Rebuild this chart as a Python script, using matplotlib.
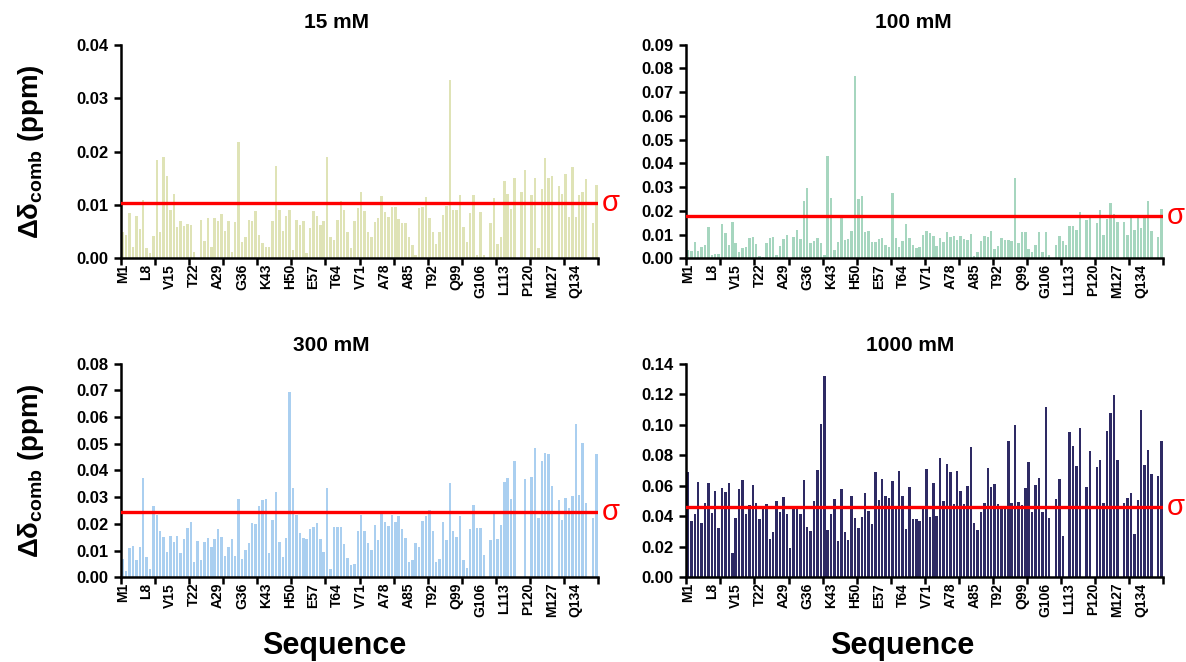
import matplotlib
matplotlib.use('Agg')
import matplotlib.pyplot as plt
from matplotlib.ticker import MultipleLocator, FormatStrFormatter
import numpy as np

plt.rcParams['font.family'] = ['Liberation Sans', 'DejaVu Sans']
plt.rcParams['mathtext.fontset'] = 'custom'
plt.rcParams['mathtext.rm'] = 'Liberation Sans:bold'
plt.rcParams['mathtext.it'] = 'Liberation Sans:bold'
plt.rcParams['mathtext.bf'] = 'Liberation Sans:bold'

# residue numbers and the labels shown every 7 residues
residues = np.arange(1, 141)
label_pos = [1, 8, 15, 22, 29, 36, 43, 50, 57, 64, 71, 78, 85, 92, 99, 106, 113, 120, 127, 134]
label_txt = ['M1', 'L8', 'V15', 'T22', 'A29', 'G36', 'K43', 'H50', 'E57', 'T64',
             'V71', 'A78', 'A85', 'T92', 'Q99', 'G106', 'L113', 'P120', 'M127', 'Q134']

# combined chemical shift perturbations (ppm), residues 1-140
shift_15 = [
    0.005, 0.0043, 0.0085, 0.0022, 0.008, 0.0055, 0.011, 0.002, 0.001, 0.0042,
    0.0185, 0.005, 0.019, 0.0154, 0.009, 0.012, 0.0058, 0.007, 0.006, 0.0065,
    0.0063, 0.0012, 0.0, 0.0072, 0.0032, 0.0075, 0.0022, 0.0075, 0.007, 0.0083,
    0.0051, 0.007, 0.0012, 0.0068, 0.0217, 0.003, 0.004, 0.0072, 0.007, 0.0088,
    0.0044, 0.0028, 0.0022, 0.0022, 0.007, 0.0172, 0.009, 0.0052, 0.008, 0.009,
    0.0016, 0.0072, 0.0063, 0.007, 0.001, 0.0056, 0.0088, 0.008, 0.0062, 0.007,
    0.019, 0.004, 0.0035, 0.0072, 0.0108, 0.0091, 0.0049, 0.0019, 0.0069, 0.0094,
    0.0125, 0.0088, 0.005, 0.0039, 0.0068, 0.0075, 0.0116, 0.0086, 0.0077, 0.0097,
    0.0097, 0.0074, 0.0066, 0.0067, 0.0039, 0.0024, 0.0006, 0.0095, 0.0097, 0.0114,
    0.0075, 0.0049, 0.0027, 0.0049, 0.0082, 0.0098, 0.0333, 0.009, 0.009, 0.0118,
    0.0058, 0.0031, 0.0085, 0.0119, 0.0007, 0.0086, 0.0007, 0.0, 0.0066, 0.0113,
    0.0027, 0.004, 0.0145, 0.0121, 0.0092, 0.0151, 0.0, 0.0124, 0.0165, 0.0,
    0.0118, 0.0151, 0.0019, 0.0129, 0.0187, 0.0151, 0.0155, 0.0, 0.0136, 0.0121,
    0.0158, 0.0078, 0.0171, 0.0077, 0.0119, 0.0124, 0.0149, 0.0, 0.0067, 0.0137]

shift_100 = [
    0.0035, 0.003, 0.007, 0.003, 0.0048, 0.0055, 0.0133, 0.0013, 0.0018, 0.0018,
    0.0145, 0.0107, 0.0058, 0.0152, 0.0065, 0.0025, 0.0045, 0.0048, 0.0085, 0.0088,
    0.0062, 0.001, 0.0005, 0.0066, 0.0087, 0.0088, 0.0012, 0.0051, 0.0082, 0.0097,
    0.0, 0.0088, 0.012, 0.0082, 0.0242, 0.0297, 0.0066, 0.0073, 0.0085, 0.0066,
    0.0016, 0.0432, 0.0254, 0.0035, 0.0068, 0.0177, 0.0077, 0.0082, 0.0117, 0.0768,
    0.025, 0.0262, 0.011, 0.0117, 0.007, 0.0067, 0.0083, 0.0085, 0.0055, 0.0048,
    0.0274, 0.0085, 0.0048, 0.0073, 0.0145, 0.0085, 0.0058, 0.0042, 0.0048, 0.0097,
    0.0117, 0.0105, 0.0093, 0.0052, 0.0085, 0.0068, 0.0112, 0.0088, 0.0092, 0.0078,
    0.0092, 0.0082, 0.0076, 0.0103, 0.0008, 0.0025, 0.0073, 0.0092, 0.0088, 0.0115,
    0.0038, 0.0052, 0.0085, 0.0078, 0.0078, 0.0073, 0.0337, 0.0066, 0.011, 0.011,
    0.0038, 0.0025, 0.0056, 0.011, 0.0025, 0.011, 0.0012, 0.0, 0.0058, 0.0092,
    0.0074, 0.0058, 0.0134, 0.0137, 0.0118, 0.0196, 0.0, 0.0162, 0.0169, 0.0,
    0.0147, 0.0203, 0.0098, 0.0167, 0.0233, 0.0188, 0.0152, 0.0, 0.0153, 0.0098,
    0.0172, 0.0118, 0.0172, 0.0128, 0.0168, 0.0241, 0.0115, 0.0, 0.0088, 0.0206]

shift_300 = [
    0.007, 0.0025, 0.011, 0.0118, 0.0063, 0.0115, 0.0373, 0.0077, 0.003, 0.0268,
    0.0233, 0.0173, 0.0152, 0.0095, 0.0155, 0.0133, 0.0155, 0.009, 0.0142, 0.0183,
    0.0207, 0.0057, 0.0135, 0.0063, 0.0132, 0.0148, 0.0112, 0.0145, 0.018, 0.0152,
    0.008, 0.0114, 0.0142, 0.008, 0.0293, 0.0067, 0.0103, 0.0129, 0.0203, 0.02,
    0.0267, 0.029, 0.0293, 0.009, 0.0215, 0.0318, 0.0133, 0.0077, 0.0148, 0.0695,
    0.0335, 0.0233, 0.0167, 0.0147, 0.0142, 0.018, 0.0187, 0.0203, 0.0145, 0.0093,
    0.0335, 0.003, 0.0187, 0.0187, 0.0187, 0.0124, 0.0074, 0.0046, 0.005, 0.0172,
    0.0235, 0.0172, 0.0127, 0.0101, 0.0195, 0.014, 0.0236, 0.0206, 0.0192, 0.0235,
    0.0208, 0.023, 0.018, 0.0147, 0.0057, 0.0065, 0.0127, 0.0115, 0.0211, 0.0231,
    0.0252, 0.0174, 0.0057, 0.0067, 0.0206, 0.014, 0.0353, 0.0174, 0.0151, 0.0228,
    0.0065, 0.0035, 0.018, 0.0271, 0.0186, 0.0184, 0.0082, 0.0, 0.014, 0.0247,
    0.0145, 0.0196, 0.0357, 0.0372, 0.0293, 0.0436, 0.0, 0.0, 0.037, 0.0,
    0.0376, 0.0484, 0.0223, 0.0436, 0.0466, 0.0462, 0.0343, 0.0, 0.0288, 0.0216,
    0.0297, 0.0258, 0.0305, 0.0576, 0.031, 0.0503, 0.0278, 0.0, 0.0222, 0.0462]

shift_1000 = [
    0.069, 0.037, 0.0415, 0.0625, 0.0357, 0.049, 0.0615, 0.042, 0.0565, 0.032,
    0.0585, 0.0557, 0.062, 0.016, 0.039, 0.0578, 0.0637, 0.0417, 0.0472, 0.0607,
    0.0487, 0.038, 0.046, 0.0483, 0.0253, 0.0297, 0.0497, 0.0425, 0.0528, 0.0415,
    0.0195, 0.0455, 0.045, 0.0418, 0.0637, 0.0327, 0.0302, 0.0497, 0.0705, 0.1005,
    0.1318, 0.031, 0.0413, 0.051, 0.024, 0.0582, 0.0298, 0.0242, 0.0532, 0.0388,
    0.0322, 0.0397, 0.055, 0.0437, 0.035, 0.069, 0.0508, 0.0642, 0.0532, 0.052,
    0.0629, 0.0463, 0.0699, 0.053, 0.0314, 0.0594, 0.0382, 0.0382, 0.0371, 0.0448,
    0.0707, 0.0395, 0.0616, 0.0402, 0.0784, 0.0498, 0.0742, 0.0688, 0.0478, 0.0699,
    0.0568, 0.0478, 0.0598, 0.0852, 0.0358, 0.0308, 0.0428, 0.0489, 0.0714, 0.0594,
    0.0611, 0.0478, 0.047, 0.0467, 0.0891, 0.0485, 0.0996, 0.0491, 0.0474, 0.0583,
    0.0755, 0.0428, 0.0605, 0.0651, 0.0428, 0.1116, 0.0389, 0.0, 0.0515, 0.0646,
    0.0271, 0.0, 0.095, 0.0858, 0.0731, 0.098, 0.0, 0.059, 0.0827, 0.0,
    0.072, 0.077, 0.0485, 0.0956, 0.1076, 0.1192, 0.0766, 0.0, 0.0485, 0.052,
    0.0555, 0.0286, 0.0509, 0.1094, 0.0738, 0.0834, 0.0679, 0.0, 0.0664, 0.0893]

titles = ['15 mM', '100 mM', '300 mM', '1000 mM']
sigmas = [0.0104, 0.018, 0.0243, 0.0458]
ymax = [0.04, 0.09, 0.08, 0.14]
ystep = [0.01, 0.01, 0.01, 0.02]
colors = ['#dfe3b6', '#a6d6bf', '#aacff0', '#2e2a64']
shifts = [shift_15, shift_100, shift_300, shift_1000]

W, H = 1186, 662
fig = plt.figure(figsize=(W / 100, H / 100), dpi=100)

# axes boxes in pixels: left, top
boxes = [(121, 44.7), (686.3, 44.7), (121, 363.7), (686.3, 363.7)]
aw, ah = 477, 213.6
title_x = [336, 913, 331, 910]
title_y = [23, 23, 345, 345]

for k in range(4):
    left, top = boxes[k]
    ax = fig.add_axes([left / W, 1 - (top + ah) / H, aw / W, ah / H])
    ax.bar(residues, shifts[k], width=0.72, color=colors[k], edgecolor='none')
    ax.axhline(sigmas[k], color='#ff0000', lw=2.4, zorder=5)
    ax.text(1.008, sigmas[k], 'σ', color='#ff0000', fontsize=21,
            transform=ax.get_yaxis_transform(), ha='left', va='center')

    ax.set_xlim(0.5, 140.5)
    ax.set_ylim(0, ymax[k])
    ax.yaxis.set_major_locator(MultipleLocator(ystep[k]))
    ax.yaxis.set_major_formatter(FormatStrFormatter('%.2f'))

    # labelled positions without marks, marks every 10 residues at boundaries
    ax.set_xticks(label_pos)
    ax.set_xticklabels(label_txt, rotation=90, fontsize=10, fontweight='bold')
    ax.tick_params(axis='x', which='major', length=0, pad=4)
    ax.set_xticks(np.arange(0.5, 141, 10), minor=True)
    ax.tick_params(axis='x', which='minor', length=5, width=1.8, direction='out')
    ax.tick_params(axis='y', length=5, width=1.8, direction='out', pad=4)
    for lab in ax.get_yticklabels():
        lab.set_fontsize(12)
        lab.set_fontweight('bold')

    for s in ['top', 'right']:
        ax.spines[s].set_visible(False)
    for s in ['left', 'bottom']:
        ax.spines[s].set_linewidth(1.8)

    if k % 2 == 0:
        ax.set_ylabel(r'$\Delta\delta_{comb}$ (ppm)', fontsize=20, fontweight='bold')
        ax.yaxis.set_label_coords(-0.158, 0.5)

    fig.text(title_x[k] / W, 1 - title_y[k] / H, titles[k], fontsize=15,
             fontweight='bold', ha='center', va='center')

fig.text(334 / W, 1 - 646 / H, 'Sequence', fontsize=22, fontweight='bold',
         ha='center', va='center')
fig.text(902 / W, 1 - 646 / H, 'Sequence', fontsize=22, fontweight='bold',
         ha='center', va='center')

fig.savefig('out.png', dpi=100)
